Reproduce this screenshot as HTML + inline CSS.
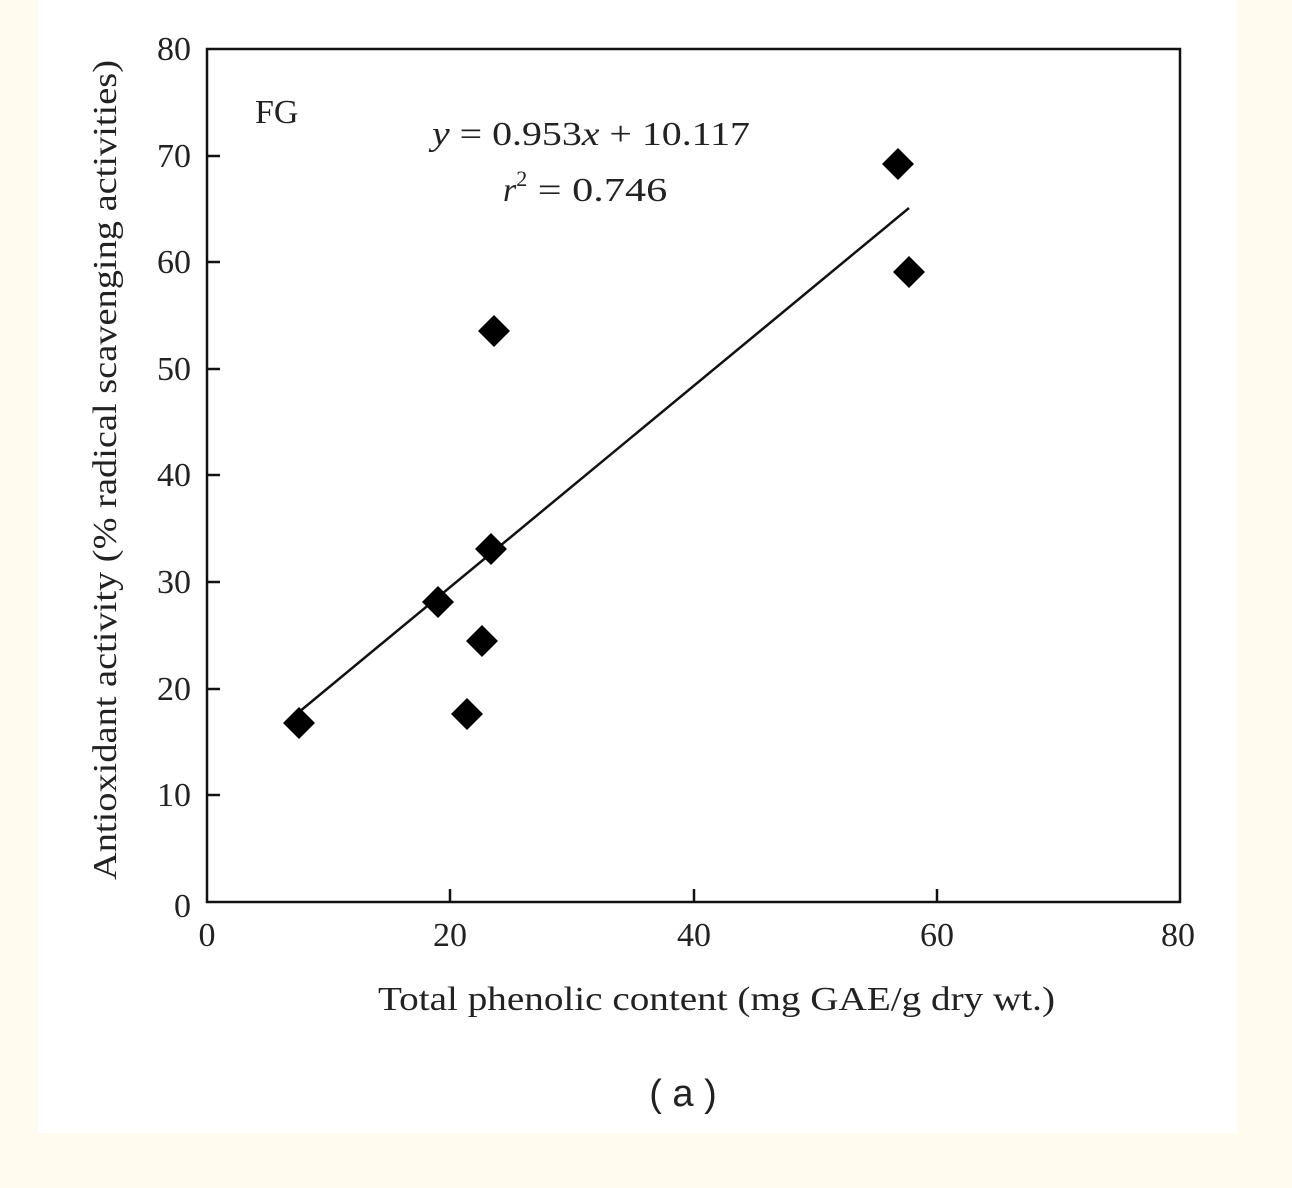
<!DOCTYPE html>
<html><head><meta charset="utf-8"><style>
html,body{margin:0;padding:0;background:#fffbee;}
svg{display:block;}
</style></head><body>
<svg width="1292" height="1188" xmlns="http://www.w3.org/2000/svg" font-family="'Liberation Serif',serif">
<rect x="0" y="0" width="1292" height="1188" fill="#fffbee"/>
<rect x="38" y="0" width="1199" height="1133" fill="#fff"/>
<rect x="207" y="49" width="973" height="853" fill="none" stroke="#111" stroke-width="2.5"/>
<g stroke="#111" stroke-width="2.5">
<line x1="207" y1="156" x2="220" y2="156"/>
<line x1="207" y1="262" x2="220" y2="262"/>
<line x1="207" y1="369" x2="220" y2="369"/>
<line x1="207" y1="475" x2="220" y2="475"/>
<line x1="207" y1="582" x2="220" y2="582"/>
<line x1="207" y1="689" x2="220" y2="689"/>
<line x1="207" y1="795" x2="220" y2="795"/>
<line x1="450" y1="902" x2="450" y2="889"/>
<line x1="694" y1="902" x2="694" y2="889"/>
<line x1="937" y1="902" x2="937" y2="889"/>
</g>
<g font-size="34" fill="#222" text-anchor="end">
<text x="191" y="60">80</text>
<text x="191" y="167">70</text>
<text x="191" y="273">60</text>
<text x="191" y="380">50</text>
<text x="191" y="486">40</text>
<text x="191" y="593">30</text>
<text x="191" y="700">20</text>
<text x="191" y="806">10</text>
<text x="191" y="917">0</text>
</g>
<g font-size="34" fill="#222" text-anchor="middle">
<text x="207" y="946">0</text>
<text x="450" y="946">20</text>
<text x="694" y="946">40</text>
<text x="937" y="946">60</text>
<text x="1178" y="946">80</text>
</g>
<g font-size="34" fill="#222">
<text x="378" y="1010" textLength="677" lengthAdjust="spacingAndGlyphs">Total phenolic content (mg GAE/g dry wt.)</text>
<text x="432" y="145" textLength="318" lengthAdjust="spacingAndGlyphs"><tspan font-style="italic">y</tspan> = 0.953<tspan font-style="italic">x</tspan> + 10.117</text>
<text x="503" y="201"><tspan font-style="italic">r</tspan><tspan font-size="22" dy="-15">2</tspan><tspan dy="15" textLength="140" lengthAdjust="spacingAndGlyphs"> = 0.746</tspan></text>
<text transform="translate(116,880) rotate(-90)" textLength="820" lengthAdjust="spacingAndGlyphs">Antioxidant activity (% radical scavenging activities)</text>
<text x="255" y="123">FG</text>
</g>
<text x="683" y="1106" font-size="38" fill="#222" text-anchor="middle" font-family="'Liberation Sans',sans-serif">( a )</text>
<line x1="299" y1="712" x2="909" y2="208" stroke="#111" stroke-width="2.5"/>
<g fill="#000">
<path d="M299 707 L315 723 L299 739 L283 723Z"/>
<path d="M467 698 L483 714 L467 730 L451 714Z"/>
<path d="M482 625 L498 641 L482 657 L466 641Z"/>
<path d="M438 586 L454 602 L438 618 L422 602Z"/>
<path d="M491 533 L507 549 L491 565 L475 549Z"/>
<path d="M494 315 L510 331 L494 347 L478 331Z"/>
<path d="M898 148 L914 164 L898 180 L882 164Z"/>
<path d="M909 256 L925 272 L909 288 L893 272Z"/>
</g>
</svg>
</body></html>
